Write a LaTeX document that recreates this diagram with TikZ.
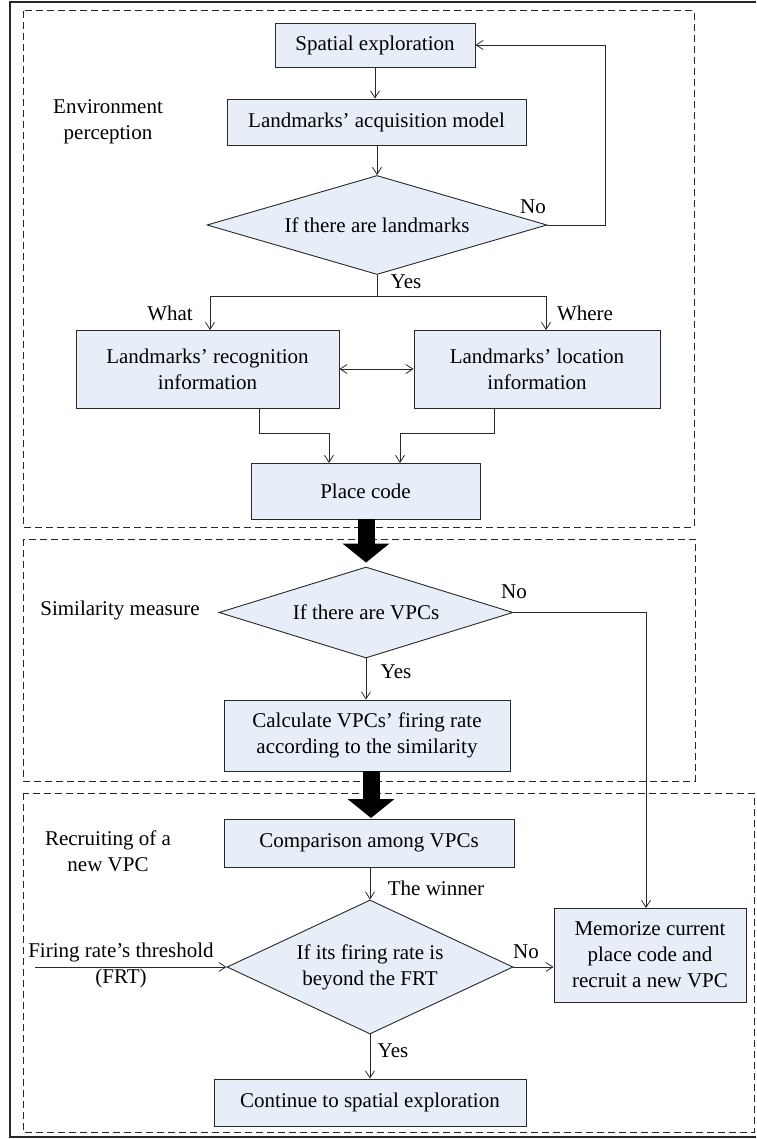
\documentclass[tikz,border=0pt]{standalone}
\usepackage{fontspec}
\setmainfont{Liberation Serif}
\usetikzlibrary{shapes.geometric,arrows.meta}
\definecolor{boxfill}{RGB}{231,238,247}
\definecolor{edge}{RGB}{40,40,40}
\begin{document}
\begin{tikzpicture}[x=1pt,y=-1pt,
  font=\fontsize{21}{26}\selectfont,
  procbox/.style={draw=edge,line width=0.9pt,fill=boxfill,align=center,inner sep=0pt},
  decision/.style={diamond,aspect=2.2,draw=edge,line width=0.9pt,fill=boxfill,align=center,inner sep=0pt},
  lbl/.style={align=center,inner sep=0pt},
  flow/.style={draw=edge,line width=0.8pt,-{Straight Barb[length=7pt,width=9pt]}},
  bigflow/.style={draw=black,line width=17pt,-{Triangle[length=19pt,width=46pt]}},
  region/.style={draw=edge,line width=1pt,dash pattern=on 7pt off 4pt}]
\useasboundingbox (0,0) rectangle (756,1139);
% outer frame
\draw[edge,line width=1.4pt] (756,2) -- (10,2) -- (10,1137) -- (756,1137);
% dashed regions
\draw[region] (23,11) rectangle (694,527);
\draw[region] (23,539) rectangle (695,781);
\draw[region] (23,793) rectangle (754,1132);
% nodes
\node[procbox,minimum width=200pt,minimum height=44pt] (sp) at (375,45) {Spatial exploration};
\node[procbox,minimum width=299pt,minimum height=46pt] (acq) at (376.5,122) {Landmarks’ acquisition model};
\node[decision,minimum width=340pt,minimum height=88pt] (d1) at (377,225) {If there are landmarks};
\node[procbox,minimum width=263pt,minimum height=78pt] (rec) at (207.5,369) {Landmarks’ recognition\\information};
\node[procbox,minimum width=246pt,minimum height=78pt] (loc) at (537,369) {Landmarks’ location\\information};
\node[procbox,minimum width=229pt,minimum height=56pt] (pc) at (365.5,491) {Place code};
\node[decision,minimum width=294pt,minimum height=91pt] (d2) at (366,612.5) {If there are VPCs};
\node[procbox,minimum width=286pt,minimum height=71pt] (calc) at (367,735.5) {Calculate VPCs’ firing rate\\according to the similarity};
\node[procbox,minimum width=290pt,minimum height=48pt] (comp) at (369,843) {Comparison among VPCs};
\node[decision,minimum width=286pt,minimum height=134pt] (d3) at (370,967) {If its firing rate is\\beyond the FRT};
\node[procbox,minimum width=192pt,minimum height=94pt] (mem) at (650,955) {Memorize current\\place code and\\recruit a new VPC};
\node[procbox,minimum width=312pt,minimum height=47pt] (cont) at (370,1102.5) {Continue to spatial exploration};
% labels
\node[lbl] (env) at (108,122) {Environment\\perception};
\node[lbl] (no1) at (533,207) {No};
\node[lbl] (yes1) at (406,282) {Yes};
\node[lbl] (what) at (170,313) {What};
\node[lbl] (where) at (585,313) {Where};
\node[lbl] (sim) at (120,610) {Similarity measure};
\node[lbl] (no2) at (514,592) {No};
\node[lbl] (yes2) at (396,672) {Yes};
\node[lbl] (recr) at (108,851) {Recruiting of a\\new VPC};
\node[lbl] (win) at (436,888) {The winner};
\node[lbl] (frt) at (121,965) {Firing rate’s threshold\\(FRT)};
\node[lbl] (no3) at (526,952) {No};
\node[lbl] (yes3) at (393,1051) {Yes};
% coordinates
\coordinate (split) at (377,296);
\coordinate (frtin) at (35,967);
% connectors
\draw[flow] (sp) -- (sp.south |- acq.north);
\draw[flow] (acq.south -| d1.north) -- (d1.north);
\draw[flow] (d1.east) -- ++(58,0) |- (sp.east);
\draw[edge,line width=0.8pt] (d1.south) -- (split);
\draw[flow] (split) -| (210,330);
\draw[flow] (split) -| (546,330);
\draw[flow,{Straight Barb[length=7pt,width=9pt]}-{Straight Barb[length=7pt,width=9pt]}] (rec.east) -- (loc.west);
\draw[flow] (259,408) |- (329,433) -- (329,463);
\draw[flow] (494,408) |- (400,433) -- (400,463);
\draw[bigflow,shorten >=4pt] (pc.south -| d2.north) -- (d2.north);
\draw[flow] (d2.south) -- (d2.south |- calc.north);
\draw[flow] (d2.east) -| (646,908);
\draw[bigflow] (371,771) -- (371,818);
\draw[flow] (comp.south -| d3.north) -- (d3.north);
\draw[flow] (frtin) -- (d3.west);
\draw[flow] (d3.east) -- (mem.west |- d3.east);
\draw[flow] (d3.south) -- (cont.north);
\end{tikzpicture}
\end{document}
